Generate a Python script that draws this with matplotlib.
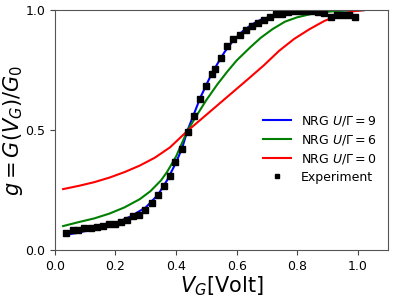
import matplotlib
matplotlib.use("Agg")
import matplotlib.pyplot as plt

# NRG curves
v_u9 = [0.035, 0.07, 0.1, 0.15, 0.2, 0.25, 0.3, 0.34, 0.37, 0.40, 0.42, 0.437, 0.46, 0.48,
        0.51, 0.536, 0.56, 0.59, 0.62, 0.65, 0.68, 0.72, 0.76, 0.82, 0.9, 1.02]
g_u9 = [0.063, 0.071, 0.079, 0.094, 0.113, 0.14, 0.178, 0.23, 0.29, 0.365, 0.425, 0.496,
        0.57, 0.635, 0.715, 0.775, 0.825, 0.875, 0.912, 0.94, 0.96, 0.976, 0.986, 0.994,
        0.998, 1.0]

v_u6 = [0.027, 0.08, 0.13, 0.18, 0.23, 0.28, 0.315, 0.35, 0.37, 0.40, 0.437, 0.47, 0.5,
        0.536, 0.57, 0.6, 0.645, 0.68, 0.72, 0.76, 0.8, 0.85, 0.9, 0.95, 1.02]
g_u6 = [0.10, 0.117, 0.132, 0.152, 0.178, 0.212, 0.245, 0.29, 0.325, 0.39, 0.496, 0.565,
        0.625, 0.69, 0.745, 0.79, 0.845, 0.885, 0.922, 0.952, 0.97, 0.985, 0.993, 0.998,
        1.0]

v_u0 = [0.027, 0.08, 0.13, 0.18, 0.23, 0.28, 0.33, 0.38, 0.437, 0.49, 0.54, 0.59, 0.64,
        0.69, 0.74, 0.79, 0.84, 0.89, 0.94, 0.98, 1.02]
g_u0 = [0.254, 0.268, 0.283, 0.302, 0.325, 0.352, 0.385, 0.428, 0.496, 0.553, 0.607,
        0.661, 0.715, 0.77, 0.83, 0.88, 0.92, 0.955, 0.98, 0.994, 1.0]

# experiment
v_exp = [0.035, 0.059, 0.077, 0.097, 0.118, 0.138, 0.158, 0.178, 0.198, 0.218, 0.238,
         0.258, 0.278, 0.299, 0.319, 0.339, 0.359, 0.379, 0.398, 0.418, 0.438, 0.458,
         0.478, 0.498, 0.518, 0.529, 0.549, 0.569, 0.588, 0.61, 0.63, 0.65, 0.67, 0.69,
         0.71, 0.73, 0.75, 0.77, 0.79, 0.81, 0.83, 0.85, 0.87, 0.89, 0.91, 0.93, 0.95,
         0.97, 0.99]
g_exp = [0.072, 0.083, 0.083, 0.092, 0.093, 0.095, 0.099, 0.107, 0.108, 0.115, 0.126,
         0.14, 0.147, 0.167, 0.197, 0.23, 0.268, 0.31, 0.367, 0.422, 0.493, 0.558,
         0.628, 0.683, 0.733, 0.753, 0.801, 0.85, 0.879, 0.898, 0.917, 0.935, 0.948,
         0.958, 0.972, 0.983, 0.982, 0.99, 0.995, 0.995, 0.995, 0.995, 0.992, 0.986,
         0.972, 0.979, 0.979, 0.978, 0.97]

fig = plt.figure(figsize=(3.98, 2.97), dpi=100)
ax = fig.add_axes([0.138, 0.158, 0.837, 0.808])

ax.plot(v_u9, g_u9, color="blue", lw=1.5, label=r"NRG $U/\Gamma=9$")
ax.plot(v_u6, g_u6, color="green", lw=1.5, label=r"NRG $U/\Gamma=6$")
ax.plot(v_u0, g_u0, color="red", lw=1.5, label=r"NRG $U/\Gamma=0$")
ax.plot(v_exp, g_exp, "s", color="black", ms=4.5, label="Experiment")

ax.set_xlim(0, 1.1)
ax.set_ylim(0, 1)
ax.set_xticks([0.0, 0.2, 0.4, 0.6, 0.8, 1.0])
ax.set_yticks([0.0, 0.5, 1.0])
ax.tick_params(labelsize=9, colors="#444444", labelcolor="black")
for s in ax.spines.values():
    s.set_color("#555555")

ax.set_xlabel(r"$V_G$[Volt]", fontsize=15, labelpad=1)
ax.set_ylabel(r"$g=G(V_G)/G_0$", fontsize=15, labelpad=0)

ax.legend(loc="lower right", frameon=False, fontsize=9, markerscale=0.5,
          bbox_to_anchor=(1.0, 0.23), handlelength=2.2, labelspacing=0.4)

fig.savefig("out.png", dpi=100)
